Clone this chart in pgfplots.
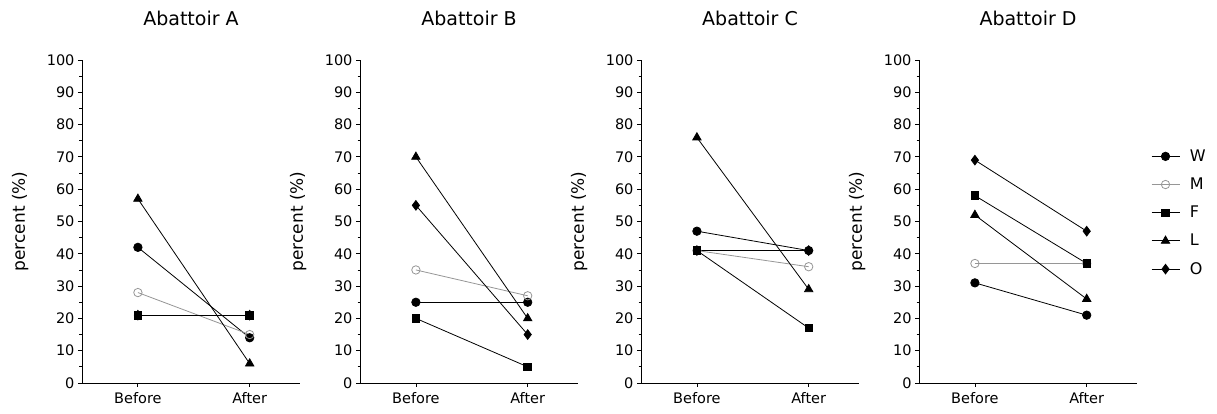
\documentclass[border=0pt]{standalone}
\usepackage{fontspec}
\setmainfont{DejaVu Sans}
\usepackage{pgfplots}
\pgfplotsset{compat=1.18}

\definecolor{mgray}{RGB}{150,150,150}

\pgfplotsset{
  panel/.style={
    scale only axis, width=218pt, height=323pt,
    anchor=south west,
    xmin=-0.5, xmax=1.45, ymin=0, ymax=100,
    axis lines=left, axis line style={-, line width=0.9pt},
    xtick={0,1}, xticklabels={Before,After},
    ytick={0,10,...,100}, minor y tick num=1,
    tick align=outside, major tick length=4pt, minor tick length=2.5pt,
    tick style={line width=0.8pt, black},
    /pgf/number format/assume math mode=true,
    tick label style={font=\fontsize{14.5}{16}\selectfont},
    xticklabel style={yshift=-2pt},
    ylabel={percent (\%)},
    every axis y label/.style={at={(axis description cs:-0.284,0.5)}, rotate=90, anchor=center, font=\fontsize{17}{19}\selectfont},
    title style={at={(axis description cs:0.5,1)}, anchor=center, yshift=36pt, font=\fontsize{19}{21}\selectfont},
    every axis plot/.append style={line width=0.8pt},
  },
  sW/.style={black, mark=*, mark size=4.2pt},
  sM/.style={mgray, mark=o, mark size=4.2pt, mark options={fill=white}},
  sF/.style={black, mark=square*, mark size=3.8pt},
  sL/.style={black, mark=triangle*, mark size=4.8pt},
  sO/.style={black, mark=diamond*, mark size=4.8pt},
}

\begin{document}
\begin{tikzpicture}
\useasboundingbox (0,0) rectangle (1217pt,414pt);

% Abattoir A
\begin{axis}[panel, at={(82pt,31pt)}, title={Abattoir A}]
\addplot[sW] coordinates {(0,42) (1,14)};
\addplot[sM] coordinates {(0,28) (1,15)};
\addplot[sF] coordinates {(0,21) (1,21)};
\addplot[sL] coordinates {(0,57) (1,6)};
\addplot[sO] coordinates {(0,21) (1,21)};
\end{axis}

% Abattoir B
\begin{axis}[panel, at={(360pt,31pt)}, title={Abattoir B}]
\addplot[sW] coordinates {(0,25) (1,25)};
\addplot[sM] coordinates {(0,35) (1,27)};
\addplot[sF] coordinates {(0,20) (1,5)};
\addplot[sL] coordinates {(0,70) (1,20)};
\addplot[sO] coordinates {(0,55) (1,15)};
\end{axis}

% Abattoir C
\begin{axis}[panel, at={(641pt,31pt)}, title={Abattoir C}]
\addplot[sW] coordinates {(0,47) (1,41)};
\addplot[sM] coordinates {(0,41) (1,36)};
\addplot[sF] coordinates {(0,41) (1,17)};
\addplot[sL] coordinates {(0,76) (1,29)};
\addplot[sO] coordinates {(0,41) (1,41)};
\end{axis}

% Abattoir D
\begin{axis}[panel, at={(919pt,31pt)}, title={Abattoir D},
  legend style={at={(axis description cs:1.05,0.735)}, anchor=north west,
    draw=none, fill=none, font=\fontsize{16}{18}\selectfont,
    row sep=11pt, column sep=8pt, legend cell align=left},
  legend image code/.code={\draw[mark repeat=2, mark phase=2] plot coordinates {(0pt,0pt) (14pt,0pt) (28pt,0pt)};},
]
\addplot[sW] coordinates {(0,31) (1,21)};
\addplot[sM] coordinates {(0,37) (1,37)};
\addplot[sF] coordinates {(0,58) (1,37)};
\addplot[sL] coordinates {(0,52) (1,26)};
\addplot[sO] coordinates {(0,69) (1,47)};
\legend{W,M,F,L,O}
\end{axis}
\end{tikzpicture}
\end{document}
